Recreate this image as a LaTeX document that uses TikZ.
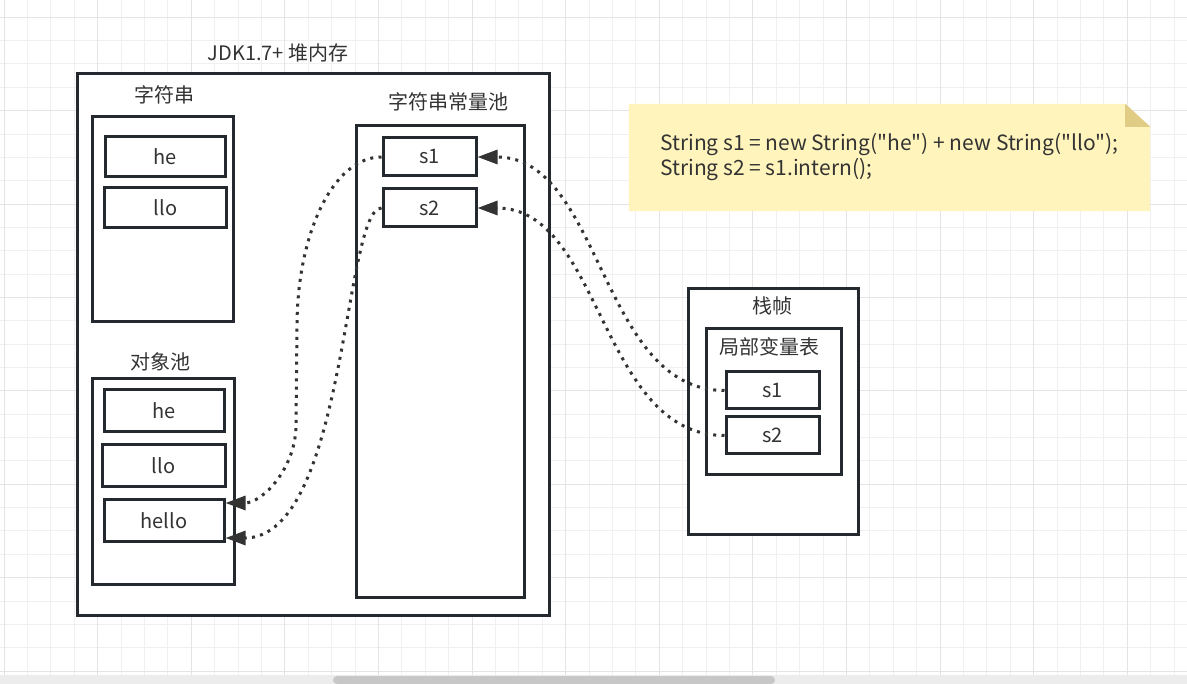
\documentclass[tikz,border=0pt]{standalone}
\usepackage{fontspec}
\newfontfamily\cjk{Noto Sans CJK SC}
\usetikzlibrary{arrows.meta}
\definecolor{boxline}{HTML}{23292F}
\definecolor{txt}{HTML}{333333}
\definecolor{gridminor}{HTML}{F0F0F0}
\definecolor{gridmajor}{HTML}{E4E4E4}
\definecolor{notefill}{HTML}{FFF4BC}
\definecolor{foldfill}{HTML}{E0CC85}
\definecolor{dotline}{HTML}{333333}
\tikzset{
  box/.style={draw=boxline, line width=3pt, fill=white, inner sep=0pt, text=txt,
    font=\cjk\fontsize{20}{24}\selectfont},
  lbl/.style={inner sep=0pt, text=txt, font=\cjk\fontsize{20}{24}\selectfont},
  codetext/.style={inner sep=0pt, text=txt, align=left, font=\cjk\fontsize{21}{25}\selectfont},
  link/.style={draw=dotline, line width=3pt, line cap=butt, dash pattern=on 3pt off 5.3pt,
    -{Triangle[length=20pt,width=14pt]}},
}
\begin{document}
\begin{tikzpicture}[x=1pt,y=-1pt]
\useasboundingbox (0,0) rectangle (1187,684);
\fill[white] (0,0) rectangle (1187,684);
% grid
\foreach \k in {0,...,50} {
  \draw[gridminor, line width=1pt] ({4+23.4*\k},0) -- ({4+23.4*\k},684);
}
\foreach \k in {-1,...,29} {
  \draw[gridminor, line width=1pt] (0,{17.3+23.35*\k}) -- (1187,{17.3+23.35*\k});
}
\foreach \k in {0,...,12} {
  \draw[gridmajor, line width=1pt] ({4+93.6*\k},0) -- ({4+93.6*\k},684);
}
\foreach \k in {0,...,7} {
  \draw[gridmajor, line width=1pt] (0,{17.3+93.4*\k}) -- (1187,{17.3+93.4*\k});
}
% heap
\node[box, minimum width=472pt, minimum height=541pt] (heap) at (313,344.5) {};
\node[lbl] (heapT) at (278,53) {JDK1.7+ 堆内存};
% string area
\node[box, minimum width=141pt, minimum height=205pt] (strbox) at (162.5,219.5) {};
\node[lbl] (strT) at (164,95) {字符串};
\node[box, minimum width=120pt, minimum height=40pt] (he1) at (165,157) {he};
\node[box, minimum width=122pt, minimum height=40pt] (llo1) at (165.5,207.5) {llo};
% pool
\node[box, minimum width=168pt, minimum height=471pt] (pool) at (440,361.5) {};
\node[lbl] (poolT) at (448,102) {字符串常量池};
\node[box, minimum width=93pt, minimum height=38pt] (ps1) at (429.5,157) {s1};
\node[box, minimum width=93pt, minimum height=38pt] (ps2) at (429.5,208) {s2};
% object pool
\node[box, minimum width=142pt, minimum height=205pt] (obj) at (163,481.5) {};
\node[lbl] (objT) at (160,362) {对象池};
\node[box, minimum width=120pt, minimum height=42pt] (he2) at (164,411) {he};
\node[box, minimum width=123pt, minimum height=42pt] (llo2) at (163.5,466) {llo};
\node[box, minimum width=120pt, minimum height=42pt] (hello) at (164,521) {hello};
% stack frame
\node[box, minimum width=170pt, minimum height=246pt] (frame) at (773,412) {};
\node[lbl] (frameT) at (772,306) {栈帧};
\node[box, minimum width=135pt, minimum height=146pt] (lvt) at (773.5,402) {};
\node[lbl] (lvtT) at (769,347) {局部变量表};
\node[box, minimum width=93pt, minimum height=37pt] (ls1) at (772.5,390.5) {s1};
\node[box, minimum width=93pt, minimum height=37pt] (ls2) at (772.5,435.5) {s2};
% note
\node[inner sep=0pt, minimum width=521pt, minimum height=107pt] (note) at (889.5,157.5) {};
\fill[notefill] (note.south west) -- (note.north west) -- ([xshift=-25pt]note.north east)
  -- ([yshift=-23pt]note.north east) -- (note.south east) -- cycle;
\fill[foldfill] ([xshift=-25pt]note.north east) -- ([xshift=-25pt,yshift=-23pt]note.north east)
  -- ([yshift=-23pt]note.north east) -- cycle;
\node[codetext, anchor=west] (code) at (660,157) {String s1 = new String("he") + new String("llo");\\String s2 = s1.intern();};
% waypoints
\coordinate (w1) at (297,327);
\coordinate (w2) at (296,425);
% connectors
\draw[link] (ls1.west) .. controls +(-125,0) and +(125,0) .. (ps1.east);
\draw[link] (ls2.west) .. controls +(-125,0) and +(125,0) .. (ps2.east);
\draw[link] (ps1.west) .. controls +(-48,0) and +(0,-94) .. (w1) -- (w2)
  .. controls +(0,43) and +(37,0) .. ([yshift=18pt]hello.east);
\draw[link] (ps2.west) .. controls +(-38,0) and +(121,0) .. ([yshift=-17pt]hello.east);
% scrollbar
\fill[gridmajor!70!white] (0,675) rectangle (1187,684);
\fill[black!22, rounded corners=4pt] (333,676) rectangle (775,684);
\end{tikzpicture}
\end{document}
